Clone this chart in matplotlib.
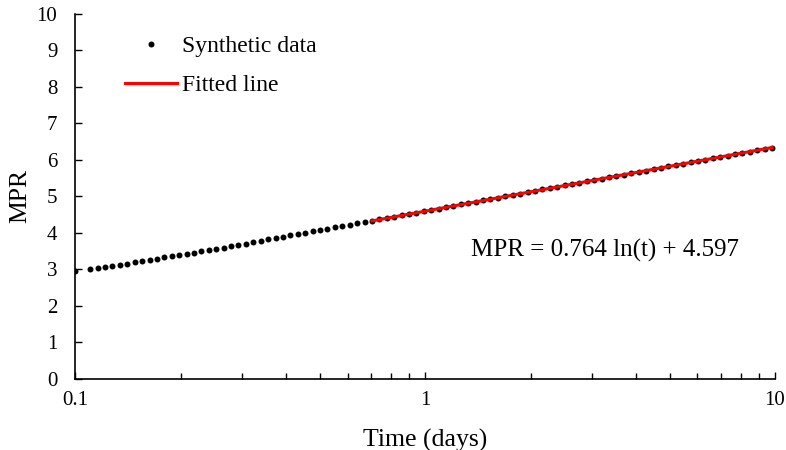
import numpy as np
import matplotlib.pyplot as plt

plt.rcParams['font.family'] = ['Liberation Serif', 'DejaVu Serif']

# synthetic drawdown data (time in days, MPR)
time_days = [0.1000, 0.1103, 0.1158, 0.1216, 0.1276, 0.1340, 0.1407, 0.1477,
             0.1551, 0.1629, 0.1710, 0.1796, 0.1886, 0.1980, 0.2079, 0.2183,
             0.2292, 0.2407, 0.2527, 0.2653, 0.2786, 0.2925, 0.3072, 0.3225,
             0.3386, 0.3556, 0.3733, 0.3920, 0.4116, 0.4322, 0.4538, 0.4765,
             0.5003, 0.5253, 0.5516, 0.5792, 0.6081, 0.6385, 0.6705, 0.7040,
             0.7392, 0.7762, 0.8150, 0.8557, 0.8985, 0.9434, 0.9906, 1.0401,
             1.0921, 1.1467, 1.2041, 1.2643, 1.3275, 1.3939, 1.4636, 1.5367,
             1.6136, 1.6943, 1.7790, 1.8679, 1.9613, 2.0594, 2.1623, 2.2705,
             2.3840, 2.5032, 2.6283, 2.7598, 2.8978, 3.0426, 3.1948, 3.3545,
             3.5222, 3.6984, 3.8833, 4.0774, 4.2813, 4.4954, 4.7201, 4.9561,
             5.2040, 5.4641, 5.7374, 6.0242, 6.3254, 6.6417, 6.9738, 7.3225,
             7.6886, 8.0730, 8.4767, 8.9005, 9.3455, 9.8128]
mpr = [2.97, 3.02, 3.05, 3.07, 3.10, 3.13, 3.16, 3.20,
       3.23, 3.26, 3.29, 3.33, 3.36, 3.39, 3.43, 3.46,
       3.50, 3.53, 3.57, 3.60, 3.64, 3.67, 3.71, 3.74,
       3.78, 3.82, 3.85, 3.89, 3.93, 3.96, 4.00, 4.04,
       4.07, 4.11, 4.15, 4.18, 4.22, 4.26, 4.29, 4.33,
       4.37, 4.41, 4.44, 4.48, 4.52, 4.55, 4.59, 4.63,
       4.66, 4.70, 4.74, 4.78, 4.81, 4.85, 4.89, 4.93,
       4.96, 5.00, 5.04, 5.07, 5.11, 5.15, 5.19, 5.22,
       5.26, 5.30, 5.34, 5.37, 5.41, 5.45, 5.48, 5.52,
       5.56, 5.60, 5.63, 5.67, 5.71, 5.75, 5.78, 5.82,
       5.86, 5.89, 5.93, 5.97, 6.01, 6.04, 6.08, 6.12,
       6.16, 6.19, 6.23, 6.27, 6.30, 6.34]

# late-time fit: MPR = a ln(t) + b
slope = 0.764
intercept = 4.597
fit_range = [0.7040, 9.8128]

fig = plt.figure(figsize=(7.86, 4.5), dpi=100)
ax = fig.add_axes([0.096, 0.158, 0.89, 0.811])

ax.plot(time_days, mpr, 'o', color='black', markersize=4.3, markeredgewidth=0,
        label='Synthetic data', zorder=2)
t_fit = np.array(fit_range)
ax.plot(t_fit, slope * np.log(t_fit) + intercept, color='red', linewidth=2.2,
        label='Fitted line', zorder=3)

ax.set_xscale('log')
ax.set_xlim(0.1, 10)
ax.set_ylim(0, 10)
ax.set_yticks(range(0, 11))
ax.set_xticks([0.1, 1, 10])
ax.set_xticklabels(['0.1', '1', '10'])
ax.tick_params(axis='both', which='major', direction='in', length=5, width=1,
               labelsize=15)
ax.tick_params(axis='x', which='major', pad=9)
ax.tick_params(axis='x', which='minor', direction='in', length=4, width=1)
ax.tick_params(axis='y', which='major', pad=13)

for side in ['top', 'right']:
    ax.spines[side].set_visible(False)
for side in ['left', 'bottom']:
    ax.spines[side].set_linewidth(1.2)

ax.set_xlabel('Time (days)', fontsize=18.5, labelpad=13)
ax.set_ylabel('MPR', fontsize=18.5, labelpad=4)

ax.text(1.35, 3.53, 'MPR = %.3f ln(t) + %.3f' % (slope, intercept),
        fontsize=18, ha='left', va='center')

ax.legend(loc='upper left', bbox_to_anchor=(0.071, 0.94), frameon=False,
          fontsize=17, numpoints=1, handlelength=2.2, handletextpad=0.2,
          labelspacing=0.72, borderpad=0, borderaxespad=0, markerscale=1.0)

fig.savefig('out.png', dpi=100)
